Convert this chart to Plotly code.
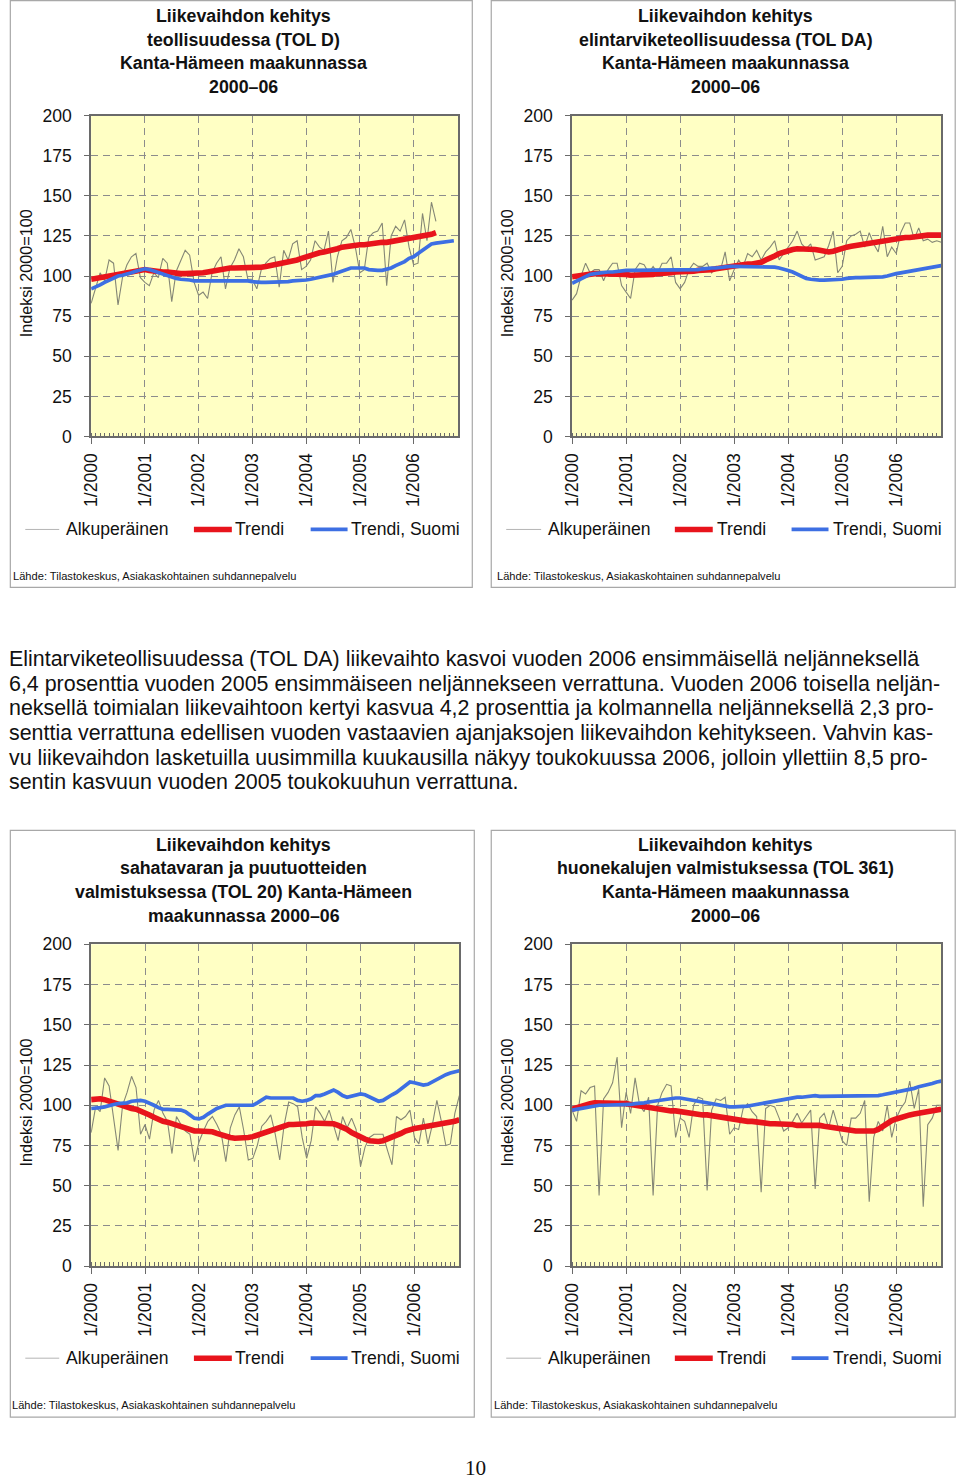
import plotly.graph_objects as go

# ---------------- data ----------------
YEAR_TICKS = ["1/2000", "1/2001", "1/2002", "1/2003", "1/2004", "1/2005", "1/2006"]
YEAR_POS = [0, 12, 24, 36, 48, 60, 72]          # month index of January each year
Y_TICKS = [0, 25, 50, 75, 100, 125, 150, 175, 200]
SERIES_NAMES = ["Alkuperäinen", "Trendi", "Trendi, Suomi"]

# Panel 1: teollisuus (TOL D)
p1_orig = [83, 92, 102, 97, 110, 108, 82, 99, 107, 112, 114, 99,
           96, 94, 102, 99, 111, 108, 84, 103, 110, 116, 113, 96,
           88, 90, 86, 102, 108, 112, 92, 105, 110, 117, 112, 98,
           98, 92, 104, 108, 111, 112, 93, 116, 110, 120, 122, 104,
           106, 110, 122, 118, 116, 128, 96, 112, 122, 124, 129, 118,
           102, 104, 124, 127, 128, 133, 94, 125, 131, 128, 135, 118,
           107, 108, 139, 122, 146, 134]
p1_trend = [98, 98.5, 99, 99.5, 100, 100.5, 101, 101.5, 102, 103, 103.5, 104,
            104, 103.5, 103, 103, 102.5, 102.5, 102, 102, 101.5, 101.5, 101.5, 101.5,
            101.5, 102, 102.5, 103, 104, 104.5, 105, 105, 105, 105, 105, 105,
            105, 105, 105.5, 106, 106.5, 107, 107.5, 108, 108.5, 109, 110, 111,
            112, 113, 114, 114.5, 115, 115.5, 116, 117, 118, 118.5, 119, 119.5,
            119.5, 119.5, 120, 120, 120.5, 121, 121, 121.5, 122, 122.5, 123, 123,
            123.5, 124, 125, 125.5, 126, 127]
p1_fin = [92, 93, 94.5, 96, 97.5, 99, 100, 100.5, 101, 102, 103, 104,
          104.5, 104, 103, 102, 101, 100, 99, 98.5, 98, 98, 97.5, 97,
          97, 97, 97, 97.5, 97.5, 97.5, 97.5, 97.5, 97.5, 97.5, 97.5, 97,
          96.5, 96, 96, 96, 96, 96, 96, 96.5, 96.5, 97, 97, 97.5,
          97.5, 98, 98.5, 99, 100, 100.5, 101, 102, 103, 104, 105, 105,
          105, 105, 104, 103.5, 103.5, 103.5, 104, 105, 106.5, 107.5, 109, 111,
          112, 114, 116, 118, 120, 120.5, 121, 121, 121.5, 122]

# Panel 2: elintarviketeollisuus (TOL DA)
p2_orig = [85, 89, 100, 108, 102, 104, 104, 97, 104, 108, 108, 94,
           90, 86, 104, 108, 107, 102, 106, 102, 108, 108, 112, 96,
           92, 96, 104, 108, 106, 106, 108, 102, 106, 104, 115, 97,
           104, 110, 106, 114, 112, 116, 110, 115, 118, 122, 110, 114,
           118, 122, 128, 120, 117, 120, 110, 111, 112, 119, 128, 102,
           106, 122, 125, 126, 128, 118, 127, 120, 115, 131, 112, 118,
           114, 127, 133, 133, 123, 130, 122, 123, 121, 122, 121]
p2_trend = [99.5, 100, 100.5, 101, 101, 101.5, 101.5, 101.5, 101.5, 101.5, 101, 101,
            101, 100.5, 100.5, 100.5, 100.5, 101, 101, 101.5, 101.5, 102, 102, 102.5,
            102.5, 103, 103, 103, 103.5, 103.5, 104, 104, 104.5, 105, 105.5, 106,
            106.5, 107, 107, 107.5, 107.5, 108, 108.5, 110, 111, 112.5, 114, 115,
            116, 116.5, 117, 117, 117, 117, 116.5, 116, 115.5, 115, 115.5, 116.5,
            117.5, 118, 118.5, 119, 119.5, 120, 120.5, 121, 121.5, 122, 122.5, 123,
            123, 123.5, 124, 124, 124.5, 125, 125, 125.5, 125.5, 125.5, 125.5]
p2_fin = [95.5, 97, 98.5, 100, 101, 101.5, 102, 102, 102.5, 102.5, 103, 103,
          103.5, 103.5, 103.5, 103.5, 103.5, 103.5, 103.5, 103.5, 103.5, 103.5, 103.5, 103.5,
          103.5, 104, 104, 104, 104, 104.5, 105, 105, 105, 105.5, 106, 106,
          106, 106, 106, 105.5, 105.5, 105.5, 106, 106, 106, 105.5, 105, 104.5,
          103.5, 102.5, 101, 99.5, 98.5, 98, 97.5, 97.5, 97.5, 97.5, 97.5, 97.5,
          98, 98.5, 99, 99, 99, 99, 99, 99, 99, 99.5, 100, 101,
          101.5, 102, 102.5, 103, 103.5, 104, 104.5, 105, 105.5, 106, 106.5]

# Panel 3: sahatavara ja puutuotteet (TOL 20)
p3_orig = [83, 99, 96, 117, 112, 91, 72, 100, 108, 118, 111, 82,
           88, 79, 97, 103, 95, 90, 70, 93, 88, 84, 82, 65,
           77, 84, 90, 93, 88, 82, 65, 86, 94, 99, 84, 66,
           67, 75, 87, 90, 94, 82, 66, 88, 102, 101, 99, 80,
           67, 78, 99, 95, 90, 97, 88, 78, 93, 86, 92, 85,
           62, 74, 80, 82, 82, 82, 72, 63, 93, 91, 93, 97,
           80, 76, 92, 76, 88, 103, 90, 75, 76, 95, 106]
p3_trend = [103.5, 104, 104, 103.5, 102.5, 101.5, 100.5, 99.5, 99, 98, 97.5, 96.5,
            95, 94, 92.5, 91, 90, 89.5, 88.5, 87.5, 86.5, 85.5, 84.5, 84,
            84, 84, 84, 83.5, 82.5, 81.5, 80.5, 80, 79.5, 79.5, 79.5, 80,
            80.5, 81.5, 82.5, 83.5, 84.5, 85, 86, 87, 88, 88, 88, 88,
            88.5, 89, 89, 89, 89, 89, 88.5, 87.5, 86.5, 85, 83, 81.5,
            80, 79, 78, 77.5, 77.5, 78, 79, 80, 81, 82.5, 84, 85,
            85.5, 86, 86.5, 86.5, 87, 88, 88, 88.5, 89.5, 90, 91]
p3_fin = [98, 98, 98.5, 99, 100, 100.5, 101, 101, 101.5, 102.5, 103, 103,
          102.5, 101.5, 100, 98.5, 97.5, 97.5, 97.5, 97.5, 97, 96, 94, 92,
          91.5, 92.5, 94.5, 96.5, 98, 99, 100, 100, 100, 100, 100, 100,
          100, 101.5, 103, 105, 104.5, 104.5, 104.5, 105, 105, 104.5, 103, 102.5,
          103, 104, 106, 106, 107, 108, 109.5, 108, 106, 105, 105.5, 106.5,
          107, 106.5, 105, 103.5, 102.5, 103, 105, 106.5, 108, 110, 112, 114.5,
          114, 113, 112.5, 113, 114.5, 116.5, 118, 119, 120, 120.5, 121.5]

# Panel 4: huonekalut (TOL 361)
p4_orig = [97, 90, 109, 107, 111, 112, 44, 104, 108, 114, 130, 86,
           108, 95, 117, 100, 96, 105, 44, 100, 108, 113, 112, 80,
           92, 90, 80, 100, 105, 104, 47, 97, 104, 103, 105, 82,
           86, 85, 98, 101, 96, 93, 46, 98, 100, 99, 92, 84,
           86, 90, 95, 89, 93, 97, 48, 92, 95, 86, 97, 88,
           78, 75, 92, 92, 95, 103, 40, 80, 90, 84, 100, 80,
           92, 98, 102, 115, 98, 110, 37, 88, 92, 100, 100]
p4_trend = [97.5, 98.5, 99.5, 100.5, 101, 101.5, 101.5, 101.5, 101.5, 101.5, 101.5, 101.5,
            101, 100.5, 100, 99.5, 99, 98.5, 98, 98, 97.5, 97, 96.5, 96.5,
            96, 95.5, 95, 94.5, 94.5, 94, 94, 93.5, 93, 92.5, 92, 91.5,
            91.5, 91, 90.5, 90, 90, 89.5, 89.5, 89, 88.5, 88.5, 88.5, 88,
            88, 88, 87.5, 87.5, 87.5, 88, 88, 87.5, 87, 86.5, 86, 85.5,
            85, 84.5, 84, 84, 84, 84, 84, 84, 85, 87, 89, 90.5,
            91.5, 92.5, 93.5, 94, 94.5, 95, 95.5, 96, 96.5, 97, 97.5]
p4_fin = [97, 97.5, 98, 99, 99.5, 100, 100, 100, 100, 100.5, 100.5, 100.5,
          100.5, 100.5, 101, 101, 101.5, 102, 102.5, 103, 103.5, 104, 104.5, 104.5,
          104.5, 104, 103, 102.5, 102, 101.5, 101, 100.5, 100, 99.5, 99, 99,
          99, 99, 99, 99.5, 100, 100.5, 101, 101.5, 102, 103, 103.5, 104,
          104.5, 104.5, 105, 105, 105.5, 105.5, 106, 105.5, 105.5, 105.5, 105.5, 105.5,
          105.5, 105.5, 106, 106, 105.5, 105.5, 105.5, 106, 106, 106.5, 107, 107.5,
          108.5, 109, 109.5, 110, 110.5, 111.5, 112, 113, 113.5, 114.5, 115]

TITLES = [
    ["Liikevaihdon kehitys", "teollisuudessa (TOL D)", "Kanta-Hämeen maakunnassa", "2000–06"],
    ["Liikevaihdon kehitys", "elintarviketeollisuudessa (TOL DA)", "Kanta-Hämeen maakunnassa", "2000–06"],
    ["Liikevaihdon kehitys", "sahatavaran ja puutuotteiden", "valmistuksessa (TOL 20) Kanta-Hämeen", "maakunnassa 2000–06"],
    ["Liikevaihdon kehitys", "huonekalujen valmistuksessa (TOL 361)", "Kanta-Hämeen maakunnassa", "2000–06"],
]
Y_TITLE = "Indeksi 2000=100"
SOURCE = "Lähde: Tilastokeskus, Asiakaskohtainen suhdannepalvelu"
PARAGRAPH = [
    "Elintarviketeollisuudessa (TOL DA) liikevaihto kasvoi vuoden 2006 ensimmäisellä neljänneksellä",
    "6,4 prosenttia vuoden 2005 ensimmäiseen neljännekseen verrattuna. Vuoden 2006 toisella neljän-",
    "neksellä toimialan liikevaihtoon kertyi kasvua 4,2 prosenttia ja kolmannella neljänneksellä 2,3 pro-",
    "senttia verrattuna edellisen vuoden vastaavien ajanjaksojen liikevaihdon kehitykseen. Vahvin kas-",
    "vu liikevaihdon lasketuilla uusimmilla kuukausilla näkyy toukokuussa 2006, jolloin yllettiin 8,5 pro-",
    "sentin kasvuun vuoden 2005 toukokuuhun verrattuna.",
]
PAGE_NO = "10"

PANELS = [
    (p1_orig, p1_trend, p1_fin),
    (p2_orig, p2_trend, p2_fin),
    (p3_orig, p3_trend, p3_fin),
    (p4_orig, p4_trend, p4_fin),
]

# ---------------- layout geometry ----------------
# Positions below are given in screenshot pixels; they are mapped to figure
# pixels with the observed page offset (body margin) and capture scale.
W, H = 960, 1500
SX, OX = 0.9918, 8.67
SY, OY = 0.98697, 9.4
FS = 1.01                      # font compensation for capture scale
FONT = "Liberation Sans, Arial, Helvetica, sans-serif"
GRAY, RED, BLUE = "#858776", "#e8141c", "#3d6fe3"

def fx(x):
    return ((x - OX) / SX) / W

def fy(y):
    return 1 - ((y - OY) / SY) / H

# plot areas: (left, right, top, bottom)
PLOT = [(90, 458, 115, 436), (572, 942, 115, 436),
        (90, 459, 944, 1266), (572, 942, 944, 1266)]
# outer boxes
BOX = [(9, 472, 0, 587), (491, 956, 0, 587), (9, 474, 830, 1417), (491, 956, 830, 1417)]
TITLE_CX = [243, 726, 243, 726]
TITLE_Y = [[15, 39, 62, 86], [15, 39, 62, 86], [845, 868, 892, 916], [845, 868, 892, 916]]
YT_X = [25, 507, 25, 507]
LEG_Y = [529, 529, 1358, 1358]
LEG_X = [[(24, 58, 62.5), (193, 231, 232.5), (310, 347, 348.5)],
         [(506, 541, 545.5), (675, 713, 715.5), (792, 829, 831.5)],
         [(24, 58, 62.5), (193, 231, 232.5), (310, 347, 348.5)],
         [(506, 541, 545.5), (675, 713, 715.5), (792, 829, 831.5)]]
SRC_POS = [(10, 576), (495, 576), (9, 1405), (492, 1405)]

fig = go.Figure()
shapes, annotations = [], []
layout_axes = {}

for i, (orig, trend, fin) in enumerate(PANELS):
    n = i + 1
    xa = "x" if n == 1 else f"x{n}"
    ya = "y" if n == 1 else f"y{n}"
    for vals, color, width, name in [(orig, GRAY, 1.1, SERIES_NAMES[0]),
                                     (trend, RED, 5.6, SERIES_NAMES[1]),
                                     (fin, BLUE, 3.7, SERIES_NAMES[2])]:
        fig.add_trace(go.Scatter(x=list(range(len(vals))), y=vals, mode="lines",
                                 line=dict(color=color, width=width),
                                 name=name, showlegend=False, xaxis=xa, yaxis=ya,
                                 hoverinfo="skip"))
    l, r, t, b = PLOT[i]
    layout_axes[f"xaxis{'' if n == 1 else n}"] = dict(
        domain=[fx(l), fx(r)], range=[0, 82], anchor=ya,
        tickmode="array", tickvals=YEAR_POS, ticktext=YEAR_TICKS, tickangle=-90,
        ticks="outside", ticklen=6, tickcolor="#6a6a6a", ticklabelstandoff=2,
        tickfont=dict(family=FONT, size=17.4 * FS, color="#111"),
        showline=True, linecolor="#6a6a6a", linewidth=1.6, mirror=True,
        showgrid=True, gridcolor="#8c8c8c", gridwidth=1, griddash="7px,5px",
        zeroline=False, fixedrange=True,
        minor=dict(tickmode="linear", tick0=0, dtick=1, ticks="inside", ticklen=4,
                   tickcolor="#6a6a6a", showgrid=False),
    )
    layout_axes[f"yaxis{'' if n == 1 else n}"] = dict(
        domain=[fy(b), fy(t)], range=[0, 200], anchor=xa,
        tickmode="array", tickvals=Y_TICKS,
        ticks="outside", ticklen=5, tickcolor="#6a6a6a", ticklabelstandoff=9,
        tickfont=dict(family=FONT, size=17.4 * FS, color="#111"),
        showline=True, linecolor="#6a6a6a", linewidth=1.6, mirror=True,
        showgrid=True, gridcolor="#8c8c8c", gridwidth=1, griddash="7px,5px",
        zeroline=False, fixedrange=True,
    )
    # outer frame
    bl, br, bt, bb = BOX[i]
    shapes.append(dict(type="rect", xref="paper", yref="paper", x0=fx(bl), x1=fx(br),
                       y0=fy(bb), y1=fy(bt), line=dict(color="#a8a8a8", width=1.2),
                       layer="below"))
    # title lines
    for line, yy in zip(TITLES[i], TITLE_Y[i]):
        annotations.append(dict(text=f"<b>{line}</b>", xref="paper", yref="paper",
                                x=fx(TITLE_CX[i]), y=fy(yy), xanchor="center", yanchor="middle",
                                showarrow=False, font=dict(family=FONT, size=17.6 * FS, color="#111")))
    # y-axis title
    annotations.append(dict(text=Y_TITLE, xref="paper", yref="paper", x=fx(YT_X[i]),
                            y=fy((t + b) / 2 - 3), xanchor="center", yanchor="middle",
                            textangle=-90, showarrow=False,
                            font=dict(family=FONT, size=16 * FS, color="#111")))
    # legend
    for (x0, x1, tx), color, width, name in zip(LEG_X[i], ["#b4b4b4", RED, BLUE],
                                                [1, 5.6, 3.7], SERIES_NAMES):
        shapes.append(dict(type="line", xref="paper", yref="paper", x0=fx(x0), x1=fx(x1),
                           y0=fy(LEG_Y[i]), y1=fy(LEG_Y[i]), line=dict(color=color, width=width)))
        annotations.append(dict(text=name, xref="paper", yref="paper", x=fx(tx), y=fy(LEG_Y[i]),
                                xanchor="left", yanchor="middle", showarrow=False,
                                font=dict(family=FONT, size=17.4 * FS, color="#111")))
    # source
    sx, sy = SRC_POS[i]
    annotations.append(dict(text=SOURCE, xref="paper", yref="paper", x=fx(sx), y=fy(sy),
                            xanchor="left", yanchor="middle", showarrow=False,
                            font=dict(family=FONT, size=11 * FS, color="#111")))

# body paragraph
PARA_Y = [659, 684, 708, 733, 758, 782]
for line, yy in zip(PARAGRAPH, PARA_Y):
    annotations.append(dict(text=line, xref="paper", yref="paper", x=fx(6), y=fy(yy),
                            xanchor="left", yanchor="middle", showarrow=False,
                            font=dict(family=FONT, size=21.2 * FS, color="#111")))
annotations.append(dict(text=PAGE_NO, xref="paper", yref="paper", x=fx(475), y=fy(1468),
                        xanchor="center", yanchor="middle", showarrow=False,
                        font=dict(family="Liberation Serif, Times New Roman, serif", size=21 * FS,
                                  color="#111")))

fig.update_layout(width=W, height=H, margin=dict(l=0, r=0, t=0, b=0),
                  paper_bgcolor="white", plot_bgcolor="#ffffc4",
                  shapes=shapes, annotations=annotations, showlegend=False,
                  **layout_axes)
fig.write_html("out.html")
